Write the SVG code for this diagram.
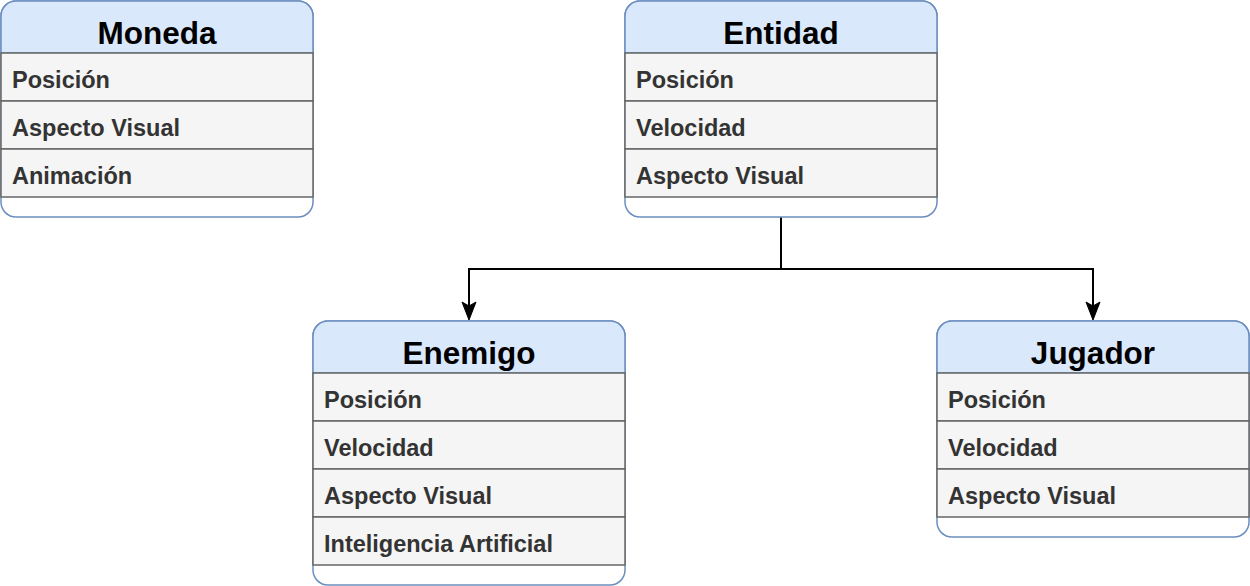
<svg xmlns="http://www.w3.org/2000/svg" width="1250" height="586" viewBox="0 0 1250 586">
<style>
.box{fill:#ffffff;stroke:#6c8ebf;stroke-width:1.5}
.hdr{fill:#dae8fc;stroke:#6c8ebf;stroke-width:1.5}
.row{fill:#f5f5f5;stroke:#666666;stroke-width:1.5}
.title{font-family:"Liberation Sans",Arial,sans-serif;font-weight:bold;font-size:31.5px;fill:#000000;text-anchor:middle}
.item{font-family:"Liberation Sans",Arial,sans-serif;font-weight:bold;font-size:23.5px;fill:#333333}
.conn{fill:none;stroke:#000000;stroke-width:2}
.head{fill:#000000;stroke:#000000;stroke-width:1}
</style>
<g id="connectors">
<path class="conn" d="M781,217 V269 H469 V308"/>
<path class="conn" d="M781,269 H1093 V308"/>
<path class="head" d="M462,302 L469,320 L476,302 L469,306 Z"/>
<path class="head" d="M1086,302 L1093,320 L1100,302 L1093,306 Z"/>
</g>
<g id="moneda">
<rect class="box" x="1" y="1" width="312" height="216" rx="15"/>
<path class="hdr" d="M1,53 V16 A15,15 0 0 1 16,1 H298 A15,15 0 0 1 313,16 V53 Z"/>
<text class="title" x="157" y="44">Moneda</text>
<rect class="row" x="1" y="53" width="312" height="48"/>
<text class="item" x="12" y="88">Posición</text>
<rect class="row" x="1" y="101" width="312" height="48"/>
<text class="item" x="12" y="136">Aspecto Visual</text>
<rect class="row" x="1" y="149" width="312" height="48"/>
<text class="item" x="12" y="184">Animación</text>
</g>
<g id="entidad">
<rect class="box" x="625" y="1" width="312" height="216" rx="15"/>
<path class="hdr" d="M625,53 V16 A15,15 0 0 1 640,1 H922 A15,15 0 0 1 937,16 V53 Z"/>
<text class="title" x="781" y="44">Entidad</text>
<rect class="row" x="625" y="53" width="312" height="48"/>
<text class="item" x="636" y="88">Posición</text>
<rect class="row" x="625" y="101" width="312" height="48"/>
<text class="item" x="636" y="136">Velocidad</text>
<rect class="row" x="625" y="149" width="312" height="48"/>
<text class="item" x="636" y="184">Aspecto Visual</text>
</g>
<g id="enemigo">
<rect class="box" x="313" y="321" width="312" height="264" rx="15"/>
<path class="hdr" d="M313,373 V336 A15,15 0 0 1 328,321 H610 A15,15 0 0 1 625,336 V373 Z"/>
<text class="title" x="469" y="364">Enemigo</text>
<rect class="row" x="313" y="373" width="312" height="48"/>
<text class="item" x="324" y="408">Posición</text>
<rect class="row" x="313" y="421" width="312" height="48"/>
<text class="item" x="324" y="456">Velocidad</text>
<rect class="row" x="313" y="469" width="312" height="48"/>
<text class="item" x="324" y="504">Aspecto Visual</text>
<rect class="row" x="313" y="517" width="312" height="48"/>
<text class="item" x="324" y="552">Inteligencia Artificial</text>
</g>
<g id="jugador">
<rect class="box" x="937" y="321" width="312" height="216" rx="15"/>
<path class="hdr" d="M937,373 V336 A15,15 0 0 1 952,321 H1234 A15,15 0 0 1 1249,336 V373 Z"/>
<text class="title" x="1093" y="364">Jugador</text>
<rect class="row" x="937" y="373" width="312" height="48"/>
<text class="item" x="948" y="408">Posición</text>
<rect class="row" x="937" y="421" width="312" height="48"/>
<text class="item" x="948" y="456">Velocidad</text>
<rect class="row" x="937" y="469" width="312" height="48"/>
<text class="item" x="948" y="504">Aspecto Visual</text>
</g>
</svg>
